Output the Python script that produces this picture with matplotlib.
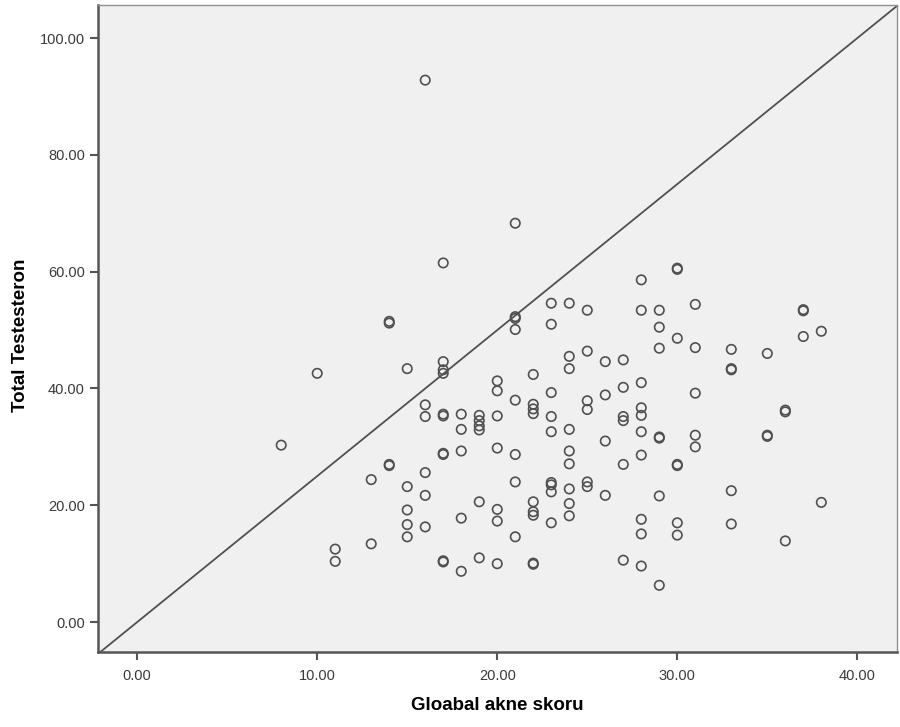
import matplotlib
matplotlib.use("Agg")
import matplotlib.pyplot as plt

plt.rcParams['font.family'] = ['Liberation Sans', 'DejaVu Sans']

# Global acne score (x) and total testosterone (y)
acne_score = [
    8,
    10,
    11, 11,
    13, 13,
    14, 14, 14, 14,
    15, 15, 15, 15, 15,
    16, 16, 16, 16, 16, 16,
    17, 17, 17, 17, 17, 17, 17, 17, 17, 17,
    18, 18, 18, 18, 18,
    19, 19, 19, 19, 19, 19,
    20, 20, 20, 20, 20, 20, 20,
    21, 21, 21, 21, 21, 21, 21, 21,
    22, 22, 22, 22, 22, 22, 22, 22, 22,
    23, 23, 23, 23, 23, 23, 23, 23, 23,
    24, 24, 24, 24, 24, 24, 24, 24, 24,
    25, 25, 25, 25, 25, 25,
    26, 26, 26, 26,
    27, 27, 27, 27, 27, 27,
    28, 28, 28, 28, 28, 28, 28, 28, 28, 28,
    29, 29, 29, 29, 29, 29, 29,
    30, 30, 30, 30, 30, 30, 30,
    31, 31, 31, 31, 31,
    33, 33, 33, 33, 33,
    35, 35, 35,
    36, 36, 36,
    37, 37, 37,
    38, 38,
]
testosterone = [
    30.3,
    42.6,
    12.5, 10.4,
    24.4, 13.4,
    51.5, 51.2, 27.0, 26.8,
    43.4, 23.2, 19.2, 16.7, 14.6,
    92.8, 37.2, 35.2, 25.6, 21.7, 16.3,
    61.5, 44.6, 43.2, 42.6, 35.6, 35.3, 28.9, 28.7, 10.5, 10.3,
    35.6, 33.0, 29.3, 17.8, 8.7,
    35.4, 34.5, 33.6, 32.9, 20.6, 11.0,
    41.3, 39.6, 35.3, 29.8, 19.3, 17.3, 10.0,
    68.3, 52.3, 52.0, 50.1, 38.0, 28.7, 24.0, 14.6,
    42.4, 37.3, 36.5, 35.7, 20.6, 18.9, 18.3, 10.1, 9.9,
    54.6, 51.0, 39.3, 35.2, 32.6, 23.9, 23.5, 22.3, 17.0,
    54.6, 45.5, 43.4, 33.0, 29.3, 27.1, 22.8, 20.3, 18.2,
    53.4, 46.4, 37.9, 36.4, 24.0, 23.2,
    44.6, 38.9, 31.0, 21.7,
    44.9, 40.2, 35.2, 34.5, 27.0, 10.6,
    58.6, 53.4, 41.0, 36.7, 35.4, 32.6, 28.6, 17.6, 15.1, 9.6,
    53.4, 50.5, 46.9, 31.7, 31.5, 21.6, 6.3,
    60.6, 60.4, 48.6, 27.0, 26.8, 17.0, 14.9,
    54.4, 47.0, 39.2, 32.0, 30.0,
    46.7, 43.4, 43.2, 22.5, 16.8,
    46.0, 32.0, 31.8,
    36.3, 36.0, 13.9,
    53.5, 53.3, 48.9,
    49.8, 20.5,
]

x_ticks = [0, 10, 20, 30, 40]
y_ticks = [0, 20, 40, 60, 80, 100]
ref_slope = 2.5

fig = plt.figure(figsize=(9, 7.27), dpi=100)
ax = fig.add_axes([0.109, 0.103, 0.888, 0.890])
ax.set_facecolor('#f0f0f0')

ax.axline((0, 0), slope=ref_slope, color='#505050', lw=1.3, zorder=2)
ax.scatter(acne_score, testosterone, s=46, facecolors='none',
           edgecolors='#505050', linewidths=1.2, zorder=3)

ax.set_xlim(-2.17, 42.22)
ax.set_ylim(-5.14, 105.65)
ax.set_xticks(x_ticks)
ax.set_yticks(y_ticks)
ax.set_xticklabels(['%.2f' % v for v in x_ticks])
ax.set_yticklabels(['%.2f' % v for v in y_ticks])
ax.tick_params(direction='out', length=6, width=1.5, color='#555555',
               labelsize=10.5, labelcolor='#3a3a3a')
ax.tick_params(axis='x', pad=6)

for side in ['left', 'bottom']:
    ax.spines[side].set_color('#555555')
    ax.spines[side].set_linewidth(1.8)
for side in ['top', 'right']:
    ax.spines[side].set_color('#909090')
    ax.spines[side].set_linewidth(1.0)

ax.set_xlabel('Gloabal akne skoru', fontsize=13.5, fontweight='bold', labelpad=10)
ax.set_ylabel('Total Testesteron', fontsize=13.5, fontweight='bold')
ax.yaxis.set_label_coords(-0.086, 0.49)

fig.savefig('out.png', dpi=100)
